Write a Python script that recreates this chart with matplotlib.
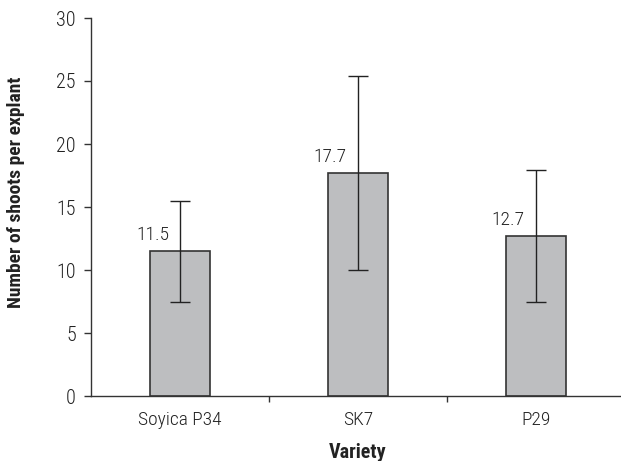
import matplotlib
matplotlib.use("Agg")
import matplotlib.pyplot as plt

varieties = ["Soyica P34", "SK7", "P29"]
means = [11.5, 17.7, 12.7]
errors = [4.0, 7.7, 5.2]
value_labels = ["11.5", "17.7", "12.7"]

plt.rcParams['font.family'] = ["Roboto Condensed", "DejaVu Sans"]
plt.rcParams['font.weight'] = 300

txt = "#222222"
fig = plt.figure(figsize=(6.21, 4.61), dpi=100)
ax = fig.add_axes([91/621, 65/461, 534/621, 378/461])

x = list(range(len(varieties)))
ax.bar(x, means, width=0.337, color="#bdbec0", edgecolor="#333333", linewidth=1.2, zorder=2)
ax.errorbar(x, means, yerr=errors, fmt="none", ecolor="#222222", elinewidth=1.0,
            capsize=7, capthick=1.0, zorder=3)
for xi, m, lab in zip(x, means, value_labels):
    ax.annotate(lab, (xi, m), xytext=(-8, 5), textcoords="offset points",
                ha="right", va="bottom", fontsize=14, color=txt, fontweight=300)

ax.set_xlim(-0.5, 2.5)
ax.set_ylim(0, 30)
ax.set_yticks([0, 5, 10, 15, 20, 25, 30])
ax.set_xticks(x)
ax.set_xticklabels(varieties)
ax.set_xticks([0.5, 1.5, 2.5], minor=True)
ax.tick_params(axis="x", which="major", length=0, pad=11, labelsize=14, labelcolor=txt)
ax.tick_params(axis="x", which="minor", length=4, width=1, color="#333333")
ax.tick_params(axis="y", length=5, width=1, color="#333333", pad=6, labelsize=14.5, labelcolor=txt)
for lab in ax.get_xticklabels() + ax.get_yticklabels():
    lab.set_fontweight(300)
for s in ["top", "right"]:
    ax.spines[s].set_visible(False)
for s in ["left", "bottom"]:
    ax.spines[s].set_color("#333333")
    ax.spines[s].set_linewidth(1.0)

ax.set_xlabel("Variety", fontsize=14.5, fontweight="bold", color=txt)
ax.set_ylabel("Number of shoots per explant", fontsize=14, fontweight="bold", color=txt)
ax.xaxis.set_label_coords(0.5, -0.125)
ax.yaxis.set_label_coords(-0.124, 0.54)

fig.savefig("out.png", dpi=100)
